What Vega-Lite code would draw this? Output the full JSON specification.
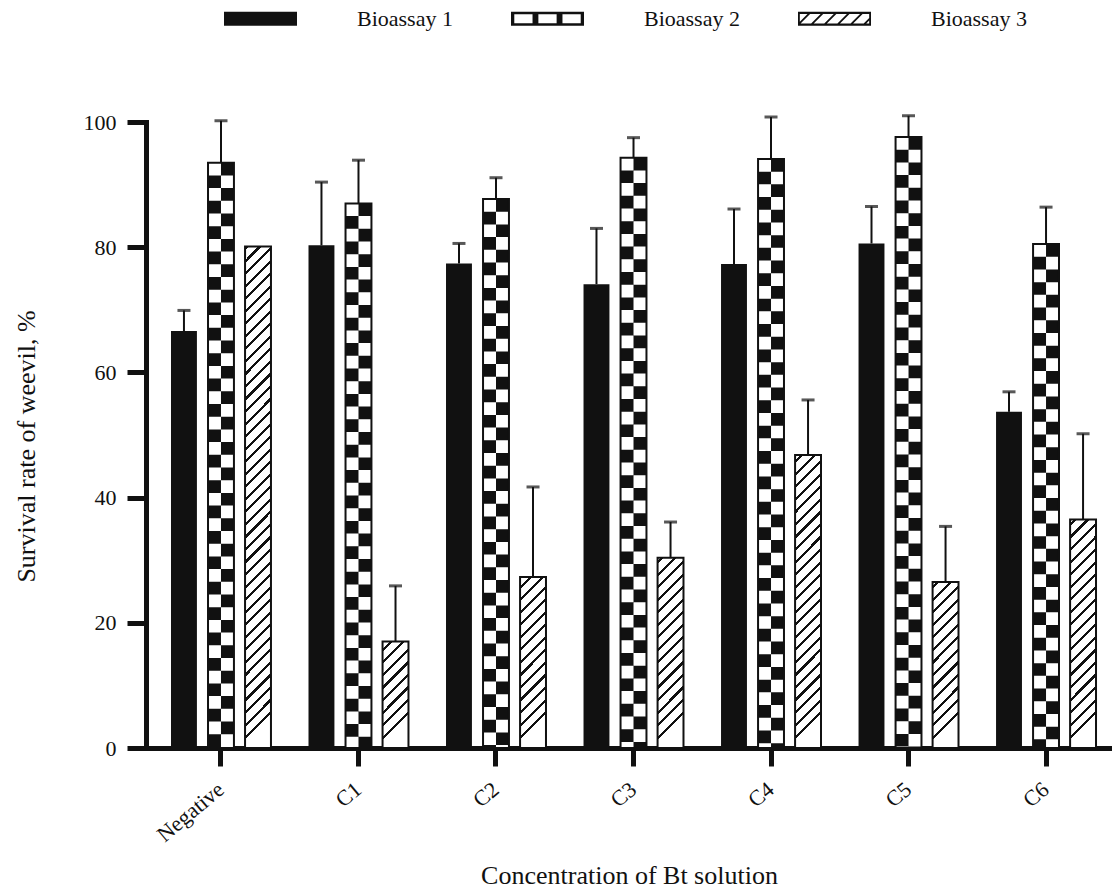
{
  "$schema": "https://vega.github.io/schema/vega-lite/v6.json",
  "autosize": {"type": "none"},
  "padding": {"left": 146, "top": 122, "right": 0, "bottom": 144},
  "width": 966,
  "height": 626,
  "background": "#ffffff",
  "config": {
    "view": {"stroke": null},
    "axisX": {"domainWidth": 5, "domainColor": "#111", "domainCap": "square", "tickColor": "#111", "tickWidth": 5, "tickSize": 18, "labelAngle": -40, "labelAlign": "right", "labelBaseline": "middle", "labelPadding": 20, "labelFont": "Liberation Serif", "labelFontSize": 22, "labelColor": "#111", "labelOverlap": false, "titleFont": "Liberation Serif", "titleFontSize": 26, "titleFontWeight": "normal", "titleColor": "#111", "titleY": 135, "titleBaseline": "alphabetic", "grid": false},
    "axisY": {"domainWidth": 5, "domainColor": "#111", "domainCap": "square", "tickColor": "#111", "tickWidth": 5, "tickSize": 19, "labelPadding": 11, "labelFont": "Liberation Serif", "labelFontSize": 22, "labelColor": "#111", "titleFont": "Liberation Serif", "titleFontSize": 26, "titleFontWeight": "normal", "titleColor": "#111", "titleX": -112, "titleY": 324, "titleAlign": "center", "titleBaseline": "alphabetic", "grid": false}
  },
  "data": {"values": [
    {"conc": "Negative", "assay": "Bioassay 1", "value": 66.6, "upper": 69.9},
    {"conc": "Negative", "assay": "Bioassay 2", "value": 93.5, "upper": 100.2},
    {"conc": "Negative", "assay": "Bioassay 3", "value": 80.1, "upper": null},
    {"conc": "C1", "assay": "Bioassay 1", "value": 80.3, "upper": 90.4},
    {"conc": "C1", "assay": "Bioassay 2", "value": 87.0, "upper": 93.9},
    {"conc": "C1", "assay": "Bioassay 3", "value": 17.0, "upper": 25.9},
    {"conc": "C2", "assay": "Bioassay 1", "value": 77.4, "upper": 80.6},
    {"conc": "C2", "assay": "Bioassay 2", "value": 87.7, "upper": 91.1},
    {"conc": "C2", "assay": "Bioassay 3", "value": 27.3, "upper": 41.7},
    {"conc": "C3", "assay": "Bioassay 1", "value": 74.1, "upper": 83.0},
    {"conc": "C3", "assay": "Bioassay 2", "value": 94.3, "upper": 97.5},
    {"conc": "C3", "assay": "Bioassay 3", "value": 30.4, "upper": 36.1},
    {"conc": "C4", "assay": "Bioassay 1", "value": 77.3, "upper": 86.1},
    {"conc": "C4", "assay": "Bioassay 2", "value": 94.1, "upper": 100.8},
    {"conc": "C4", "assay": "Bioassay 3", "value": 46.8, "upper": 55.6},
    {"conc": "C5", "assay": "Bioassay 1", "value": 80.6, "upper": 86.5},
    {"conc": "C5", "assay": "Bioassay 2", "value": 97.6, "upper": 101.0},
    {"conc": "C5", "assay": "Bioassay 3", "value": 26.5, "upper": 35.4},
    {"conc": "C6", "assay": "Bioassay 1", "value": 53.7, "upper": 56.9},
    {"conc": "C6", "assay": "Bioassay 2", "value": 80.5, "upper": 86.4},
    {"conc": "C6", "assay": "Bioassay 3", "value": 36.5, "upper": 50.2}
  ]},
  "encoding": {
    "x": {"field": "conc", "type": "nominal", "sort": ["Negative", "C1", "C2", "C3", "C4", "C5", "C6"], "title": "Concentration of Bt solution", "scale": {"paddingInner": 0.273, "paddingOuter": 0.149, "align": 0.61}},
    "y": {"field": "value", "type": "quantitative", "title": "Survival rate of weevil, %", "scale": {"domain": [0, 100], "nice": false, "zero": true}, "axis": {"values": [0, 20, 40, 60, 80, 100]}}
  },
  "layer": [
    {
      "mark": {"type": "bar", "fill": "#111111"},
      "encoding": {
        "xOffset": {"field": "assay", "type": "nominal", "scale": {"domain": ["Bioassay 1", "Bioassay 2", "Bioassay 3"], "paddingInner": 0.3, "paddingOuter": 0}}
      }
    },
    {
      "transform": [{"filter": "datum.assay === 'Bioassay 3'"}],
      "mark": {"type": "bar", "fill": {"gradient": "linear", "x1": 0, "y1": 0, "x2": 0.0415, "y2": 1, "stops": [
        {"offset": 0, "color": "#111"}, {"offset": 0.005, "color": "#111"}, {"offset": 0.005, "color": "#fff"}, {"offset": 0.02, "color": "#fff"},
        {"offset": 0.02, "color": "#111"}, {"offset": 0.025, "color": "#111"}, {"offset": 0.025, "color": "#fff"}, {"offset": 0.04, "color": "#fff"},
        {"offset": 0.04, "color": "#111"}, {"offset": 0.045, "color": "#111"}, {"offset": 0.045, "color": "#fff"}, {"offset": 0.06, "color": "#fff"},
        {"offset": 0.06, "color": "#111"}, {"offset": 0.065, "color": "#111"}, {"offset": 0.065, "color": "#fff"}, {"offset": 0.08, "color": "#fff"},
        {"offset": 0.08, "color": "#111"}, {"offset": 0.085, "color": "#111"}, {"offset": 0.085, "color": "#fff"}, {"offset": 0.1, "color": "#fff"},
        {"offset": 0.1, "color": "#111"}, {"offset": 0.105, "color": "#111"}, {"offset": 0.105, "color": "#fff"}, {"offset": 0.12, "color": "#fff"},
        {"offset": 0.12, "color": "#111"}, {"offset": 0.125, "color": "#111"}, {"offset": 0.125, "color": "#fff"}, {"offset": 0.14, "color": "#fff"},
        {"offset": 0.14, "color": "#111"}, {"offset": 0.145, "color": "#111"}, {"offset": 0.145, "color": "#fff"}, {"offset": 0.16, "color": "#fff"},
        {"offset": 0.16, "color": "#111"}, {"offset": 0.165, "color": "#111"}, {"offset": 0.165, "color": "#fff"}, {"offset": 0.18, "color": "#fff"},
        {"offset": 0.18, "color": "#111"}, {"offset": 0.185, "color": "#111"}, {"offset": 0.185, "color": "#fff"}, {"offset": 0.2, "color": "#fff"},
        {"offset": 0.2, "color": "#111"}, {"offset": 0.205, "color": "#111"}, {"offset": 0.205, "color": "#fff"}, {"offset": 0.22, "color": "#fff"},
        {"offset": 0.22, "color": "#111"}, {"offset": 0.225, "color": "#111"}, {"offset": 0.225, "color": "#fff"}, {"offset": 0.24, "color": "#fff"},
        {"offset": 0.24, "color": "#111"}, {"offset": 0.245, "color": "#111"}, {"offset": 0.245, "color": "#fff"}, {"offset": 0.26, "color": "#fff"},
        {"offset": 0.26, "color": "#111"}, {"offset": 0.265, "color": "#111"}, {"offset": 0.265, "color": "#fff"}, {"offset": 0.28, "color": "#fff"},
        {"offset": 0.28, "color": "#111"}, {"offset": 0.285, "color": "#111"}, {"offset": 0.285, "color": "#fff"}, {"offset": 0.3, "color": "#fff"},
        {"offset": 0.3, "color": "#111"}, {"offset": 0.305, "color": "#111"}, {"offset": 0.305, "color": "#fff"}, {"offset": 0.32, "color": "#fff"},
        {"offset": 0.32, "color": "#111"}, {"offset": 0.325, "color": "#111"}, {"offset": 0.325, "color": "#fff"}, {"offset": 0.34, "color": "#fff"},
        {"offset": 0.34, "color": "#111"}, {"offset": 0.345, "color": "#111"}, {"offset": 0.345, "color": "#fff"}, {"offset": 0.36, "color": "#fff"},
        {"offset": 0.36, "color": "#111"}, {"offset": 0.365, "color": "#111"}, {"offset": 0.365, "color": "#fff"}, {"offset": 0.38, "color": "#fff"},
        {"offset": 0.38, "color": "#111"}, {"offset": 0.385, "color": "#111"}, {"offset": 0.385, "color": "#fff"}, {"offset": 0.4, "color": "#fff"},
        {"offset": 0.4, "color": "#111"}, {"offset": 0.405, "color": "#111"}, {"offset": 0.405, "color": "#fff"}, {"offset": 0.42, "color": "#fff"},
        {"offset": 0.42, "color": "#111"}, {"offset": 0.425, "color": "#111"}, {"offset": 0.425, "color": "#fff"}, {"offset": 0.44, "color": "#fff"},
        {"offset": 0.44, "color": "#111"}, {"offset": 0.445, "color": "#111"}, {"offset": 0.445, "color": "#fff"}, {"offset": 0.46, "color": "#fff"},
        {"offset": 0.46, "color": "#111"}, {"offset": 0.465, "color": "#111"}, {"offset": 0.465, "color": "#fff"}, {"offset": 0.48, "color": "#fff"},
        {"offset": 0.48, "color": "#111"}, {"offset": 0.485, "color": "#111"}, {"offset": 0.485, "color": "#fff"}, {"offset": 0.5, "color": "#fff"},
        {"offset": 0.5, "color": "#111"}, {"offset": 0.505, "color": "#111"}, {"offset": 0.505, "color": "#fff"}, {"offset": 0.52, "color": "#fff"},
        {"offset": 0.52, "color": "#111"}, {"offset": 0.525, "color": "#111"}, {"offset": 0.525, "color": "#fff"}, {"offset": 0.54, "color": "#fff"},
        {"offset": 0.54, "color": "#111"}, {"offset": 0.545, "color": "#111"}, {"offset": 0.545, "color": "#fff"}, {"offset": 0.56, "color": "#fff"},
        {"offset": 0.56, "color": "#111"}, {"offset": 0.565, "color": "#111"}, {"offset": 0.565, "color": "#fff"}, {"offset": 0.58, "color": "#fff"},
        {"offset": 0.58, "color": "#111"}, {"offset": 0.585, "color": "#111"}, {"offset": 0.585, "color": "#fff"}, {"offset": 0.6, "color": "#fff"},
        {"offset": 0.6, "color": "#111"}, {"offset": 0.605, "color": "#111"}, {"offset": 0.605, "color": "#fff"}, {"offset": 0.62, "color": "#fff"},
        {"offset": 0.62, "color": "#111"}, {"offset": 0.625, "color": "#111"}, {"offset": 0.625, "color": "#fff"}, {"offset": 0.64, "color": "#fff"},
        {"offset": 0.64, "color": "#111"}, {"offset": 0.645, "color": "#111"}, {"offset": 0.645, "color": "#fff"}, {"offset": 0.66, "color": "#fff"},
        {"offset": 0.66, "color": "#111"}, {"offset": 0.665, "color": "#111"}, {"offset": 0.665, "color": "#fff"}, {"offset": 0.68, "color": "#fff"},
        {"offset": 0.68, "color": "#111"}, {"offset": 0.685, "color": "#111"}, {"offset": 0.685, "color": "#fff"}, {"offset": 0.7, "color": "#fff"},
        {"offset": 0.7, "color": "#111"}, {"offset": 0.705, "color": "#111"}, {"offset": 0.705, "color": "#fff"}, {"offset": 0.72, "color": "#fff"},
        {"offset": 0.72, "color": "#111"}, {"offset": 0.725, "color": "#111"}, {"offset": 0.725, "color": "#fff"}, {"offset": 0.74, "color": "#fff"},
        {"offset": 0.74, "color": "#111"}, {"offset": 0.745, "color": "#111"}, {"offset": 0.745, "color": "#fff"}, {"offset": 0.76, "color": "#fff"},
        {"offset": 0.76, "color": "#111"}, {"offset": 0.765, "color": "#111"}, {"offset": 0.765, "color": "#fff"}, {"offset": 0.78, "color": "#fff"},
        {"offset": 0.78, "color": "#111"}, {"offset": 0.785, "color": "#111"}, {"offset": 0.785, "color": "#fff"}, {"offset": 0.8, "color": "#fff"},
        {"offset": 0.8, "color": "#111"}, {"offset": 0.805, "color": "#111"}, {"offset": 0.805, "color": "#fff"}, {"offset": 0.82, "color": "#fff"},
        {"offset": 0.82, "color": "#111"}, {"offset": 0.825, "color": "#111"}, {"offset": 0.825, "color": "#fff"}, {"offset": 0.84, "color": "#fff"},
        {"offset": 0.84, "color": "#111"}, {"offset": 0.845, "color": "#111"}, {"offset": 0.845, "color": "#fff"}, {"offset": 0.86, "color": "#fff"},
        {"offset": 0.86, "color": "#111"}, {"offset": 0.865, "color": "#111"}, {"offset": 0.865, "color": "#fff"}, {"offset": 0.88, "color": "#fff"},
        {"offset": 0.88, "color": "#111"}, {"offset": 0.885, "color": "#111"}, {"offset": 0.885, "color": "#fff"}, {"offset": 0.9, "color": "#fff"},
        {"offset": 0.9, "color": "#111"}, {"offset": 0.905, "color": "#111"}, {"offset": 0.905, "color": "#fff"}, {"offset": 0.92, "color": "#fff"},
        {"offset": 0.92, "color": "#111"}, {"offset": 0.925, "color": "#111"}, {"offset": 0.925, "color": "#fff"}, {"offset": 0.94, "color": "#fff"},
        {"offset": 0.94, "color": "#111"}, {"offset": 0.945, "color": "#111"}, {"offset": 0.945, "color": "#fff"}, {"offset": 0.96, "color": "#fff"},
        {"offset": 0.96, "color": "#111"}, {"offset": 0.965, "color": "#111"}, {"offset": 0.965, "color": "#fff"}, {"offset": 0.98, "color": "#fff"},
        {"offset": 0.98, "color": "#111"}, {"offset": 0.985, "color": "#111"}, {"offset": 0.985, "color": "#fff"}, {"offset": 1, "color": "#fff"}
      ]}},
      "encoding": {
        "xOffset": {"field": "assay", "type": "nominal", "scale": {"domain": ["Bioassay 1", "Bioassay 2", "Bioassay 3"]}},
        "y": {"datum": 100, "type": "quantitative", "title": "Survival rate of weevil, %"},
        "y2": {"datum": 0}
      }
    },
    {
      "transform": [{"filter": "datum.assay === 'Bioassay 3'"}],
      "mark": {"type": "bar", "fill": "#ffffff", "width": 30},
      "encoding": {
        "xOffset": {"field": "assay", "type": "nominal", "scale": {"domain": ["Bioassay 1", "Bioassay 2", "Bioassay 3"]}},
        "y2": {"datum": 100}
      }
    },
    {
      "transform": [{"filter": "datum.assay === 'Bioassay 2'"}],
      "mark": {"type": "rule", "color": "#ffffff", "strokeWidth": 13, "strokeDash": [12.7, 12.7], "xOffset": -6.5},
      "encoding": {"y2": {"datum": 0}}
    },
    {
      "transform": [{"filter": "datum.assay === 'Bioassay 2'"}],
      "mark": {"type": "rule", "color": "#ffffff", "strokeWidth": 13, "strokeDash": [12.7, 12.7], "strokeDashOffset": 12.7, "xOffset": 6.5},
      "encoding": {"y2": {"datum": 0}}
    },
    {
      "transform": [{"filter": "datum.assay !== 'Bioassay 1'"}],
      "mark": {"type": "bar", "fillOpacity": 0, "stroke": "#111", "strokeWidth": 2},
      "encoding": {
        "xOffset": {"field": "assay", "type": "nominal", "scale": {"domain": ["Bioassay 1", "Bioassay 2", "Bioassay 3"]}}
      }
    },
    {
      "transform": [{"filter": {"field": "upper", "valid": true}}],
      "mark": {"type": "rule", "color": "#111", "strokeWidth": 2},
      "encoding": {
        "xOffset": {"field": "assay", "type": "nominal", "scale": {"domain": ["Bioassay 1", "Bioassay 2", "Bioassay 3"]}},
        "y2": {"field": "upper"}
      }
    },
    {
      "transform": [{"filter": {"field": "upper", "valid": true}}],
      "mark": {"type": "tick", "color": "#111", "orient": "horizontal", "size": 13, "thickness": 3},
      "encoding": {
        "xOffset": {"field": "assay", "type": "nominal", "scale": {"domain": ["Bioassay 1", "Bioassay 2", "Bioassay 3"]}},
        "y": {"field": "upper", "type": "quantitative", "title": "Survival rate of weevil, %"}
      }
    },
    {
      "mark": {"type": "point", "filled": true, "fill": "#111111", "size": 0, "strokeWidth": 0},
      "encoding": {
        "xOffset": {"field": "assay", "type": "nominal", "scale": {"domain": ["Bioassay 1", "Bioassay 2", "Bioassay 3"]}},
        "shape": {"field": "assay", "type": "nominal",
          "scale": {"domain": ["Bioassay 1", "Bioassay 2", "Bioassay 3"], "range": [
            "M-1,-0.19H1V0.19H-1Z",
            "M-1,-0.19H1V0.19H-1Z M-0.91,-0.12V0.12H-0.41V-0.12Z M-0.25,-0.12V0.12H0.25V-0.12Z M0.41,-0.12V0.12H0.91V-0.12Z",
            "M-1,-0.19H1V0.19H-1Z M-0.95,-0.13L-0.95,0.08L-0.74,-0.13Z M-0.67,-0.13L-0.93,0.13L-0.64,0.13L-0.38,-0.13Z M-0.31,-0.13L-0.57,0.13L-0.28,0.13L-0.02,-0.13Z M0.05,-0.13L-0.21,0.13L0.08,0.13L0.34,-0.13Z M0.41,-0.13L0.15,0.13L0.44,0.13L0.7,-0.13Z M0.77,-0.13L0.51,0.13L0.8,0.13L0.95,-0.02L0.95,-0.13Z M0.87,0.13L0.95,0.13L0.95,0.05Z"
          ]},
          "legend": {"title": null, "orient": "none", "legendX": 78, "legendY": -140, "direction": "horizontal", "columns": 3, "padding": 0,
            "symbolSize": 5329, "symbolStrokeWidth": 0, "symbolFillColor": "#111111", "symbolOpacity": 1,
            "labelFont": "Liberation Serif", "labelFontSize": 22, "labelColor": "#111", "labelOffset": 60, "columnPadding": 58}
        }
      }
    }
  ]
}
